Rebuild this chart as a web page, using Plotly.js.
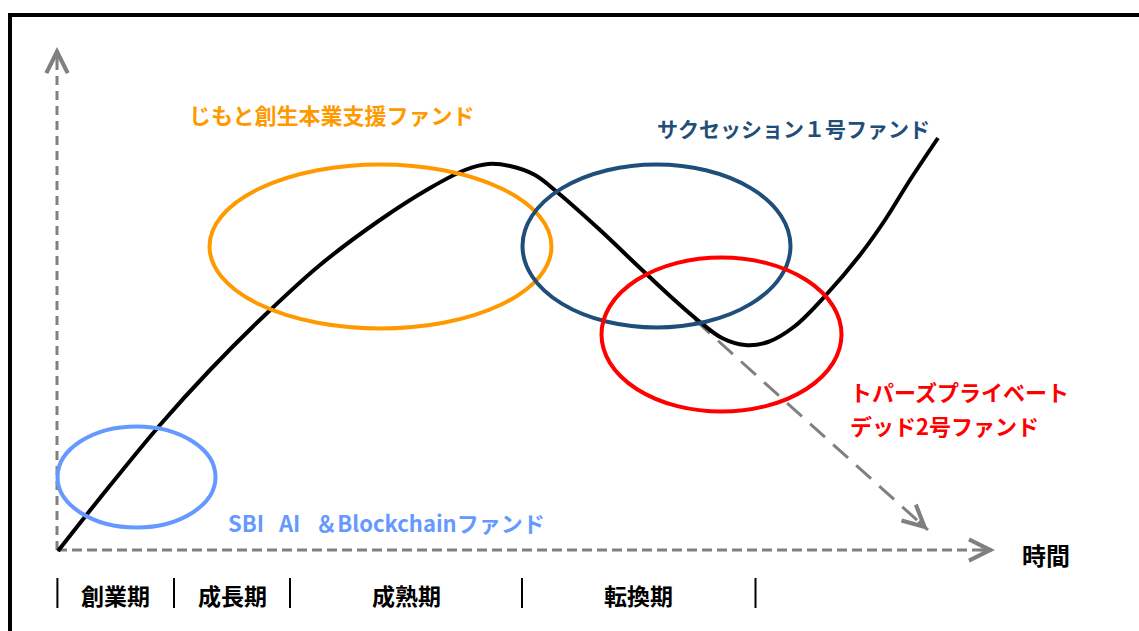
<!DOCTYPE html>
<html>
<head>
<meta charset="utf-8">
<script src="https://cdn.plot.ly/plotly-3.0.1.min.js"></script>
<style>html,body{margin:0;padding:0;background:#fff;}#chart{width:1139px;height:631px;}</style>
</head>
<body>
<div id="chart"></div>
<script>
// ---- data (conceptual units: time on x, value on y) ----
const curveX = [0.1, 4.3, 10.3, 15.3, 20.8, 26.3, 32.3, 37.3, 40.8, 43.1, 45.3, 47.8, 50.0, 54.3, 58.3, 61.3, 64.3, 66.5, 68.8, 71.1, 73.8, 76.9, 80.3, 82.8, 85.3, 88.1];
const curveY = [-0.1, 5.2, 12.5, 18.0, 23.5, 28.5, 33.0, 36.2, 38.0, 38.6, 38.4, 37.5, 35.8, 32.0, 28.2, 25.4, 22.8, 21.2, 20.5, 20.8, 22.4, 25.5, 29.5, 33.0, 37.0, 41.2];

const fundNames   = ["SBI\u00A0\u00A0\u00A0AI\u00A0\u00A0\u00A0＆Blockchainファンド", "じもと創生本業支援ファンド", "サクセッション１号ファンド", "トパーズプライベート", "デッド2号ファンド"];
const fundColors  = ["#6699FF", "#FF9900", "#1F4E79", "#FF0000", "#FF0000"];
const labelX      = [16.9, 13.0, 59.8, 79.1, 79.1];
const labelY      = [2.8, 43.6, 42.2, 15.9, 12.5];
const labelSize   = [22, 22, 21, 22, 22];

const ellipseColors  = ["#6699FF", "#FF9900", "#1F4E79", "#FF0000"];
const ellipseCenterX = [7.95, 32.35, 59.95, 66.45];
const ellipseCenterY = [7.3, 30.35, 30.4, 21.55];
const ellipseRadiusX = [7.9, 17.1, 13.4, 12.0];
const ellipseRadiusY = [5.05, 8.2, 8.15, 7.7];

const periodNames  = ["創業期", "成長期", "成熟期", "転換期"];
const periodBounds = [0.04, 11.7, 23.3, 46.5, 69.85];

const yAxisTop   = 50.3;
const xAxisEnd   = 93.8;
const declineX   = [63.8, 87.1];
const declineY   = [23.0, 2.0];
const timeLabel  = "時間";

// ---- build figure ----
const FONT = "'Noto Sans CJK JP', 'Noto Sans', sans-serif";
const gray = "#808080";
const traces = [];

// axes (dashed)
traces.push({x: [0, 0], y: [0, yAxisTop - 0.3], mode: "lines", line: {color: gray, width: 3, dash: "9px,6px"}, hoverinfo: "skip"});
traces.push({x: [0, xAxisEnd - 0.3], y: [0, 0], mode: "lines", line: {color: gray, width: 3, dash: "10px,5px"}, hoverinfo: "skip"});
// decline path
traces.push({x: declineX, y: declineY, mode: "lines", line: {color: gray, width: 3, dash: "20px,11px"}, hoverinfo: "skip"});
// life-cycle curve
traces.push({x: curveX, y: curveY, mode: "lines", line: {color: "#000", width: 4, shape: "spline", smoothing: 1.0}, hoverinfo: "skip"});

const shapes = [];
// frame
shapes.push({type: "rect", xref: "paper", yref: "paper", x0: 10/1139, x1: 1.05, y0: -0.05, y1: (631-15)/631, line: {color: "#000", width: 4}, layer: "below"});
// fund ellipses
for (let i = 0; i < ellipseColors.length; i++) {
  shapes.push({type: "circle", xref: "x", yref: "y",
    x0: ellipseCenterX[i] - ellipseRadiusX[i], x1: ellipseCenterX[i] + ellipseRadiusX[i],
    y0: ellipseCenterY[i] - ellipseRadiusY[i], y1: ellipseCenterY[i] + ellipseRadiusY[i],
    line: {color: ellipseColors[i], width: 4}, layer: "above"});
}
// period boundaries
for (let i = 0; i < periodBounds.length; i++) {
  shapes.push({type: "line", xref: "x", yref: "y", x0: periodBounds[i], x1: periodBounds[i], y0: -2.8, y1: -5.8, line: {color: "#000", width: 2}});
}

const annotations = [];
for (let i = 0; i < fundNames.length; i++) {
  annotations.push({x: labelX[i], y: labelY[i], xref: "x", yref: "y", text: fundNames[i], showarrow: false,
    xanchor: "left", yanchor: "middle", align: "left",
    font: {family: FONT, size: labelSize[i], color: fundColors[i], weight: "bold"}});
}
for (let i = 0; i < periodNames.length; i++) {
  annotations.push({x: (periodBounds[i] + periodBounds[i+1]) / 2, y: -4.45, xref: "x", yref: "y", text: periodNames[i],
    showarrow: false, xanchor: "center", yanchor: "middle", font: {family: FONT, size: 23, color: "#000", weight: "bold"}});
}
annotations.push({x: 96.3, y: -0.4, xref: "x", yref: "y", text: timeLabel, showarrow: false, xanchor: "left", yanchor: "middle",
  font: {family: FONT, size: 24, color: "#000", weight: "bold"}});
// arrow heads
const eps = 0.001;
const slope = (declineY[0] - declineY[1]) / (declineX[1] - declineX[0]);
const heads = [
  {x: eps, y: yAxisTop, ax: eps, ay: yAxisTop - 1.6},
  {x: xAxisEnd, y: eps, ax: xAxisEnd - 1.6, ay: eps},
  {x: declineX[1], y: declineY[1], ax: declineX[1] - 1.1, ay: declineY[1] + 1.1 * slope}
];
heads.forEach(h => annotations.push({x: h.x, y: h.y, ax: h.ax, ay: h.ay, xref: "x", yref: "y", axref: "x", ayref: "y",
  text: "", showarrow: true, arrowhead: 5, arrowsize: 1.4, arrowwidth: 3, arrowcolor: gray, standoff: 0}));

const layout = {
  width: 1139, height: 631,
  margin: {l: 0, r: 0, t: 0, b: 0},
  paper_bgcolor: "#fff", plot_bgcolor: "#fff",
  showlegend: false,
  xaxis: {range: [-5.7, 108.2], visible: false, fixedrange: true},
  yaxis: {range: [-8.1, 55.0], visible: false, fixedrange: true},
  shapes: shapes,
  annotations: annotations
};
Plotly.newPlot("chart", traces, layout, {displayModeBar: false, staticPlot: true});
</script>
</body>
</html>
